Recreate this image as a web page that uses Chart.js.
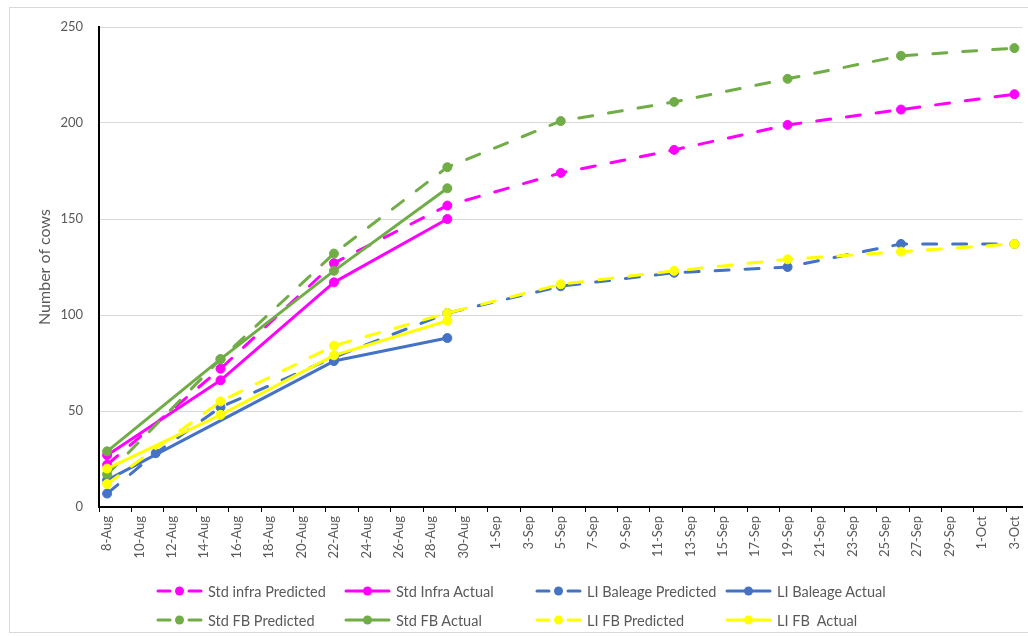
<!DOCTYPE html>
<html>
<head>
<meta charset="utf-8">
<script src="https://cdn.jsdelivr.net/npm/chart.js@4.4.0/dist/chart.umd.min.js"></script>
<style>
  html, body { margin: 0; padding: 0; background: #fff; }
  #wrap { position: relative; width: 1028px; height: 636px; overflow: hidden; font-family: Lato, "Liberation Sans", sans-serif; }
  #frame { position: absolute; left: 9px; top: 7px; width: 1040px; height: 626px; border: 1px solid #d9d9d9; box-sizing: border-box; }
  #chart { position: absolute; left: 0; top: 0; }
  .item { position: absolute; height: 20px; display: flex; align-items: center; font-size: 14.5px; color: #595959; white-space: nowrap; }
  .item svg { margin-right: 5px; flex: none; }
</style>
</head>
<body>
<div id="wrap">
  <div id="frame"></div>
  <canvas id="chart" width="1028" height="636"></canvas>
  <div id="legend"></div>
</div>
<script>
// Axis tick labels, every second day
const tickLabels = ['8-Aug', '10-Aug', '12-Aug', '14-Aug', '16-Aug', '18-Aug', '20-Aug', '22-Aug',
  '24-Aug', '26-Aug', '28-Aug', '30-Aug', '1-Sep', '3-Sep', '5-Sep', '7-Sep', '9-Sep', '11-Sep',
  '13-Sep', '15-Sep', '17-Sep', '19-Sep', '21-Sep', '23-Sep', '25-Sep', '27-Sep', '29-Sep', '1-Oct', '3-Oct'];

// Observation dates
const predictedDates = ['8-Aug', '15-Aug', '22-Aug', '29-Aug', '5-Sep', '12-Sep', '19-Sep', '26-Sep', '3-Oct'];
const actualDates = ['8-Aug', '15-Aug', '22-Aug', '29-Aug'];
const baleagePredictedDates = ['8-Aug', '11-Aug', '15-Aug', '22-Aug', '29-Aug', '5-Sep', '12-Sep', '19-Sep', '26-Sep', '3-Oct'];
const baleageActualDates = ['8-Aug', '22-Aug', '29-Aug'];

// Number of cows per series
const stdInfraPredicted = [22, 72, 127, 157, 174, 186, 199, 207, 215];
const stdInfraActual = [27, 66, 117, 150];
const liBaleagePredicted = [7, 28, 52, 78, 101, 115, 122, 125, 137, 137];
const liBaleageActual = [14, 76, 88];
const stdFbPredicted = [17, 77, 132, 177, 201, 211, 223, 235, 239];
const stdFbActual = [29, 77, 123, 166];
const liFbPredicted = [12, 55, 84, 101, 116, 123, 129, 133, 137];
const liFbActual = [20, 48, 79, 97];

// Days elapsed since 8-Aug
const monthStart = { Aug: 0, Sep: 31, Oct: 61 };
function dayIndex(label) {
  const [d, m] = label.split('-');
  return monthStart[m] + Number(d) - 8;
}

const MAGENTA = '#ff00ff', BLUE = '#4472c4', GREEN = '#70ad47', YELLOW = '#ffff00';

function series(label, dates, values, color, dashed, i) {
  return {
    label,
    data: dates.map((d, k) => ({ x: dayIndex(d), y: values[k] })),
    borderColor: color,
    backgroundColor: color,
    pointBackgroundColor: color,
    pointBorderColor: color,
    pointBorderWidth: 1,
    pointRadius: 4.5,
    pointHoverRadius: 4.5,
    borderWidth: 3,
    borderDash: dashed ? [14, 16] : [],
    borderCapStyle: 'round',
    borderJoinStyle: 'round',
    tension: 0,
    fill: false,
    order: 7 - i,
    dashed
  };
}

const datasets = [
  ['Std infra Predicted', predictedDates, stdInfraPredicted, MAGENTA, true],
  ['Std Infra Actual', actualDates, stdInfraActual, MAGENTA, false],
  ['LI Baleage Predicted', baleagePredictedDates, liBaleagePredicted, BLUE, true],
  ['LI Baleage Actual', baleageActualDates, liBaleageActual, BLUE, false],
  ['Std FB Predicted', predictedDates, stdFbPredicted, GREEN, true],
  ['Std FB Actual', actualDates, stdFbActual, GREEN, false],
  ['LI FB Predicted', predictedDates, liFbPredicted, YELLOW, true],
  ['LI FB  Actual', actualDates, liFbActual, YELLOW, false]
].map((s, i) => series(s[0], s[1], s[2], s[3], s[4], i));

const fontFamily = 'Lato, "Liberation Sans", sans-serif';

const chart = new Chart(document.getElementById('chart'), {
  type: 'line',
  data: { datasets },
  options: {
    responsive: false,
    animation: false,
    events: [],
    layout: { padding: { top: 27, right: 2, bottom: 69, left: 0 } },
    plugins: { legend: { display: false }, tooltip: { enabled: false } },
    scales: {
      x: {
        type: 'linear',
        min: -0.5,
        max: 56.5,
        afterBuildTicks: (scale) => {
          scale.ticks = tickLabels.map(l => ({ value: dayIndex(l) - 0.5 }));
        },
        afterFit: (scale) => { scale.height = 60; },
        ticks: {
          autoSkip: false,
          minRotation: 90,
          maxRotation: 90,
          labelOffset: 8.1,
          padding: 4,
          color: '#595959',
          font: { family: fontFamily, size: 13 },
          callback: (v, i) => tickLabels[i]
        },
        grid: { drawOnChartArea: false, drawTicks: true, tickLength: 5, color: '#000', lineWidth: 1 },
        border: { display: true, color: '#000', width: 2 }
      },
      y: {
        min: 0,
        max: 250,
        afterFit: (scale) => { scale.width = 99; },
        ticks: { stepSize: 50, padding: 16, color: '#595959', font: { family: fontFamily, size: 13 } },
        grid: { color: '#d9d9d9', lineWidth: 1, drawTicks: false },
        border: { display: true, color: '#000', width: 2 },
        title: {
          display: true,
          text: 'Number of cows',
          color: '#595959',
          font: { family: fontFamily, size: 16 },
          padding: { top: 35, bottom: 0 }
        }
      }
    }
  }
});

// Legend: two rows of four entries
const legendCols = [156, 344, 535, 725];
const legendRows = [591, 620];
const legend = document.getElementById('legend');
chart.data.datasets.forEach((ds, i) => {
  const item = document.createElement('div');
  item.className = 'item';
  item.style.left = legendCols[i % 4] + 'px';
  item.style.top = (legendRows[Math.floor(i / 4)] - 10) + 'px';
  const c = ds.borderColor;
  const line = ds.dashed
    ? `<line x1="2" y1="6" x2="14" y2="6"/><line x1="33" y1="6" x2="45" y2="6"/>`
    : `<line x1="2" y1="6" x2="45" y2="6"/>`;
  item.innerHTML =
    `<svg width="47" height="12" viewBox="0 0 47 12"><g stroke="${c}" stroke-width="3" stroke-linecap="round">${line}</g>` +
    `<circle cx="23.5" cy="6" r="4.5" fill="${c}"/></svg><span>${ds.label.replace(/ /g, '&nbsp;')}</span>`;
  legend.appendChild(item);
});
</script>
</body>
</html>
